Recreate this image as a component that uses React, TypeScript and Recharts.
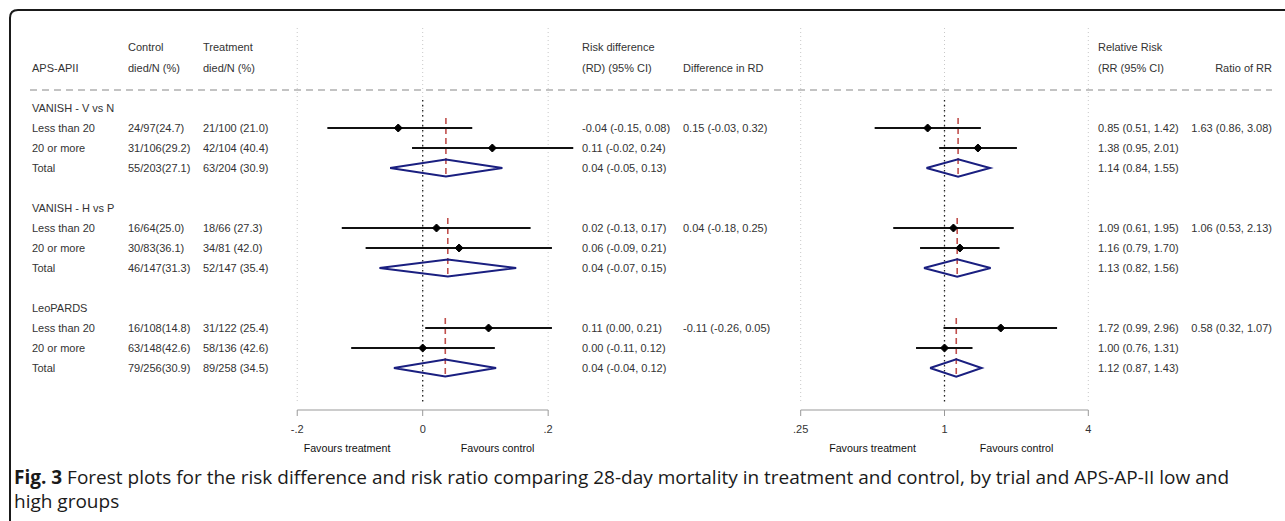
import React from 'react';
import { ComposedChart, Scatter, XAxis, YAxis, ReferenceLine } from 'recharts';

// ---------- data ----------
const groups = ['VANISH - V vs N', 'VANISH - H vs P', 'LeoPARDS'];
const subgroups = ['Less than 20', '20 or more', 'Total'];
const controlCounts = ['24/97(24.7)', '31/106(29.2)', '55/203(27.1)', '16/64(25.0)', '30/83(36.1)', '46/147(31.3)', '16/108(14.8)', '63/148(42.6)', '79/256(30.9)'];
const treatmentCounts = ['21/100 (21.0)', '42/104 (40.4)', '63/204 (30.9)', '18/66 (27.3)', '34/81 (42.0)', '52/147 (35.4)', '31/122 (25.4)', '58/136 (42.6)', '89/258 (34.5)'];
const rdLabels = ['-0.04 (-0.15, 0.08)', '0.11 (-0.02, 0.24)', '0.04 (-0.05, 0.13)', '0.02 (-0.13, 0.17)', '0.06 (-0.09, 0.21)', '0.04 (-0.07, 0.15)', '0.11 (0.00, 0.21)', '0.00 (-0.11, 0.12)', '0.04 (-0.04, 0.12)'];
const rdDiffLabels = ['0.15 (-0.03, 0.32)', '0.04 (-0.18, 0.25)', '-0.11 (-0.26, 0.05)'];
const rrLabels = ['0.85 (0.51, 1.42)', '1.38 (0.95, 2.01)', '1.14 (0.84, 1.55)', '1.09 (0.61, 1.95)', '1.16 (0.79, 1.70)', '1.13 (0.82, 1.56)', '1.72 (0.99, 2.96)', '1.00 (0.76, 1.31)', '1.12 (0.87, 1.43)'];
const rrRatioLabels = ['1.63 (0.86, 3.08)', '1.06 (0.53, 2.13)', '0.58 (0.32, 1.07)'];

const rdEst = [-0.039, 0.111, 0.037, 0.022, 0.058, 0.04, 0.105, 0.0, 0.036];
const rdLow = [-0.152, -0.017, -0.052, -0.129, -0.091, -0.069, 0.004, -0.114, -0.046];
const rdHigh = [0.079, 0.24, 0.127, 0.172, 0.206, 0.149, 0.206, 0.115, 0.117];

const rrEst = [0.85, 1.38, 1.14, 1.09, 1.16, 1.13, 1.72, 1.0, 1.12];
const rrLow = [0.51, 0.95, 0.84, 0.61, 0.79, 0.82, 0.99, 0.76, 0.87];
const rrHigh = [1.42, 2.01, 1.55, 1.95, 1.70, 1.56, 2.96, 1.31, 1.43];

const rdTicks = [-0.2, 0, 0.2];
const rdTickLabels = ['-.2', '0', '.2'];
const rrTicks = [0.25, 1, 4];
const rrTickLabels = ['.25', '1', '4'];

const headerCols = {
  group: ['', 'APS-APII'],
  control: ['Control', 'died/N (%)'],
  treatment: ['Treatment', 'died/N (%)'],
  rd: ['Risk difference', '(RD) (95% CI)'],
  rdDiff: ['', 'Difference in RD'],
  rr: ['Relative Risk', '(RR (95% CI)'],
  rrRatio: ['', 'Ratio of RR'],
};
const favourLabels = ['Favours treatment', 'Favours control'];
const captionBold = 'Fig. 3';
const captionLine1 = ' Forest plots for the risk difference and risk ratio comparing 28-day mortality in treatment and control, by trial and APS-AP-II low and';
const captionLine2 = 'high groups';

// ---------- layout ----------
const W = 1285;
const H = 521;
const ROW0 = 108;
const ROW_H = 20;
const rowIndex = (g: number, s: number) => g * 5 + 1 + s;
const rowY = (r: number) => ROW0 + ROW_H * r;
const Y_DOMAIN: [number, number] = [-4, 15.1];
const CHART_TOP = 28;
const CHART_H = 450;
const FONT = '"Liberation Sans", Arial, sans-serif';
const TXT = '#333';

const DIAMOND_HALF = 0.43; // in row units
const MARK = 4;

const noShape = () => <g />;
const diamondMark = (p: any) => {
  const { cx, cy } = p;
  if (cx == null || cy == null) return <g />;
  return (
    <polygon
      points={`${cx},${cy - MARK} ${cx + MARK},${cy} ${cx},${cy + MARK} ${cx - MARK},${cy}`}
      fill="#000"
      stroke="#000"
      strokeWidth={1}
    />
  );
};

type Panel = {
  est: number[];
  low: number[];
  high: number[];
};

function forestSeries(p: Panel) {
  const out: React.ReactNode[] = [];
  groups.forEach((_, g) => {
    const totalIdx = g * 3 + 2;
    const rTop = rowIndex(g, 0);
    const rTot = rowIndex(g, 2);
    out.push(
      <Scatter
        key={`red-${g}`}
        data={[{ x: p.est[totalIdx], y: rTop - 0.5 }, { x: p.est[totalIdx], y: rTot + 0.45 }]}
        line={{ stroke: '#c0504d', strokeWidth: 1.6, strokeDasharray: '6 4' }}
        shape={noShape}
        isAnimationActive={false}
      />
    );
    [0, 1].forEach((s) => {
      const i = g * 3 + s;
      const r = rowIndex(g, s);
      out.push(
        <Scatter
          key={`ci-${i}`}
          data={[{ x: p.low[i], y: r }, { x: p.high[i], y: r }]}
          line={{ stroke: '#111', strokeWidth: 2 }}
          shape={noShape}
          isAnimationActive={false}
        />
      );
    });
    out.push(
      <Scatter
        key={`dia-${g}`}
        data={[
          { x: p.low[totalIdx], y: rTot },
          { x: p.est[totalIdx], y: rTot - DIAMOND_HALF },
          { x: p.high[totalIdx], y: rTot },
          { x: p.est[totalIdx], y: rTot + DIAMOND_HALF },
          { x: p.low[totalIdx], y: rTot },
        ]}
        line={{ stroke: '#1a1f80', strokeWidth: 2, strokeLinejoin: 'miter' }}
        shape={noShape}
        isAnimationActive={false}
      />
    );
  });
  const pts: { x: number; y: number }[] = [];
  groups.forEach((_, g) => {
    [0, 1].forEach((s) => pts.push({ x: p.est[g * 3 + s], y: rowIndex(g, s) }));
  });
  out.push(<Scatter key="pts" data={pts} shape={diamondMark} isAnimationActive={false} />);
  return out;
}

function gridLines(ticks: number[], nullVal: number) {
  const out: React.ReactNode[] = [];
  ticks.forEach((t, i) => {
    out.push(
      <ReferenceLine
        key={`g-${i}`}
        segment={[{ x: t, y: Y_DOMAIN[0] }, { x: t, y: 14.7 }]}
        stroke="#c8c8c8"
        strokeDasharray="1 3"
        strokeWidth={1}
        ifOverflow="visible"
      />
    );
  });
  out.push(
    <ReferenceLine
      key="null"
      segment={[{ x: nullVal, y: -0.4 }, { x: nullVal, y: 14.7 }]}
      stroke="#222"
      strokeDasharray="1.5 3.5"
      strokeWidth={1.3}
      ifOverflow="visible"
    />
  );
  return out;
}

const tickStyle = { fontSize: 11, fill: TXT, fontFamily: FONT };

function RDChart() {
  const left = 200;
  const width = 450;
  return (
    <div style={{ position: 'absolute', left, top: 0 }}>
      <ComposedChart width={width} height={CHART_H} margin={{ top: CHART_TOP, left: 34.5, right: 39.1, bottom: 0 }}>
        <XAxis
          dataKey="x"
          type="number"
          domain={[-0.3, 0.3]}
          allowDataOverflow
          ticks={rdTicks}
          tickFormatter={(v: number) => rdTickLabels[rdTicks.indexOf(v)] ?? String(v)}
          axisLine={false}
          tickLine={{ stroke: '#999' }}
          tickSize={6}
          tickMargin={9}
          tick={tickStyle}
          height={40}
        />
        <YAxis dataKey="y" type="number" domain={Y_DOMAIN} reversed allowDataOverflow hide width={0} />
        {gridLines(rdTicks, 0)}
        <ReferenceLine
          segment={[{ x: rdTicks[0], y: Y_DOMAIN[1] }, { x: rdTicks[2], y: Y_DOMAIN[1] }]}
          stroke="#999"
          strokeWidth={1.2}
          ifOverflow="visible"
        />
        {forestSeries({ est: rdEst, low: rdLow, high: rdHigh })}
      </ComposedChart>
    </div>
  );
}

function RRChart() {
  const left = 760;
  const width = 370;
  return (
    <div style={{ position: 'absolute', left, top: 0 }}>
      <ComposedChart width={width} height={CHART_H} margin={{ top: CHART_TOP, left: 40.7, right: 41.7, bottom: 0 }}>
        <XAxis
          dataKey="x"
          type="number"
          scale="log"
          domain={[0.25, 4]}
          allowDataOverflow
          ticks={rrTicks}
          tickFormatter={(v: number) => rrTickLabels[rrTicks.indexOf(v)] ?? String(v)}
          axisLine={{ stroke: '#999', strokeWidth: 1.2 }}
          tickLine={{ stroke: '#999' }}
          tickSize={6}
          tickMargin={9}
          tick={tickStyle}
          height={40}
        />
        <YAxis dataKey="y" type="number" domain={Y_DOMAIN} reversed allowDataOverflow hide width={0} />
        {gridLines(rrTicks, 1)}
        {forestSeries({ est: rrEst, low: rrLow, high: rrHigh })}
      </ComposedChart>
    </div>
  );
}

function Overlay() {
  const T = (x: number, y: number, s: string, anchor: 'start' | 'end' | 'middle' = 'start', key?: string) => (
    <text key={key} x={x} y={y} textAnchor={anchor} dominantBaseline="central" fontFamily={FONT} fontSize={11} fill={TXT}>
      {s}
    </text>
  );
  const H1 = 47;
  const H2 = 68;
  const X = { group: 32, control: 128, treatment: 203, rd: 582, rdDiff: 683, rr: 1098, rrRatio: 1272 };
  const texts: React.ReactNode[] = [];
  texts.push(T(X.group, H2, headerCols.group[1], 'start', 'h-g'));
  texts.push(T(X.control, H1, headerCols.control[0], 'start', 'h-c1'));
  texts.push(T(X.control, H2, headerCols.control[1], 'start', 'h-c2'));
  texts.push(T(X.treatment, H1, headerCols.treatment[0], 'start', 'h-t1'));
  texts.push(T(X.treatment, H2, headerCols.treatment[1], 'start', 'h-t2'));
  texts.push(T(X.rd, H1, headerCols.rd[0], 'start', 'h-rd1'));
  texts.push(T(X.rd, H2, headerCols.rd[1], 'start', 'h-rd2'));
  texts.push(T(X.rdDiff, H2, headerCols.rdDiff[1], 'start', 'h-rdd'));
  texts.push(T(X.rr, H1, headerCols.rr[0], 'start', 'h-rr1'));
  texts.push(T(X.rr, H2, headerCols.rr[1], 'start', 'h-rr2'));
  texts.push(T(X.rrRatio, H2, headerCols.rrRatio[1], 'end', 'h-rrr'));

  groups.forEach((gname, g) => {
    texts.push(T(X.group, rowY(g * 5), gname, 'start', `g-${g}`));
    subgroups.forEach((sname, s) => {
      const i = g * 3 + s;
      const y = rowY(rowIndex(g, s));
      texts.push(T(X.group, y, sname, 'start', `s-${i}`));
      texts.push(T(X.control, y, controlCounts[i], 'start', `c-${i}`));
      texts.push(T(X.treatment, y, treatmentCounts[i], 'start', `t-${i}`));
      texts.push(T(X.rd, y, rdLabels[i], 'start', `rd-${i}`));
      texts.push(T(X.rr, y, rrLabels[i], 'start', `rr-${i}`));
      if (s === 0) {
        texts.push(T(X.rdDiff, y, rdDiffLabels[g], 'start', `rdd-${g}`));
        texts.push(T(X.rrRatio, y, rrRatioLabels[g], 'end', `rrr-${g}`));
      }
    });
  });

  const FAV_Y = 448;
  const fav = (x: number, s: string, k: string) => (
    <text key={k} x={x} y={FAV_Y} textAnchor="middle" dominantBaseline="central" fontFamily={FONT} fontSize={10.7} fill="#111">
      {s}
    </text>
  );

  return (
    <svg width={W} height={H} style={{ position: 'absolute', left: 0, top: 0 }}>
      <rect x={0} y={0} width={W} height={H} fill="#fff" />
      <path d={`M10,${H} L10,18 Q10,10 18,10 L${W},10`} fill="none" stroke="#1a1a1a" strokeWidth={2} />
      <line x1={30} y1={90} x2={1272} y2={90} stroke="#b0b0b0" strokeWidth={1.4} strokeDasharray="7 5" />
      {texts}
      {fav(347, favourLabels[0], 'f1')}
      {fav(497.5, favourLabels[1], 'f2')}
      {fav(872.5, favourLabels[0], 'f3')}
      {fav(1016.5, favourLabels[1], 'f4')}
      <text x={14} y={477} dominantBaseline="central" fontFamily='"Open Sans", sans-serif' fontSize={19} fill="#1a1a1a">
        <tspan fontWeight={700}>{captionBold}</tspan>
        <tspan>{captionLine1}</tspan>
      </text>
      <text x={14} y={501} dominantBaseline="central" fontFamily='"Open Sans", sans-serif' fontSize={19} fill="#1a1a1a">
        {captionLine2}
      </text>
    </svg>
  );
}

export default function App() {
  return (
    <div style={{ position: 'absolute', left: 0, top: 0, width: W, height: H, overflow: 'hidden', background: '#fff' }}>
      <Overlay />
      <RDChart />
      <RRChart />
    </div>
  );
}
